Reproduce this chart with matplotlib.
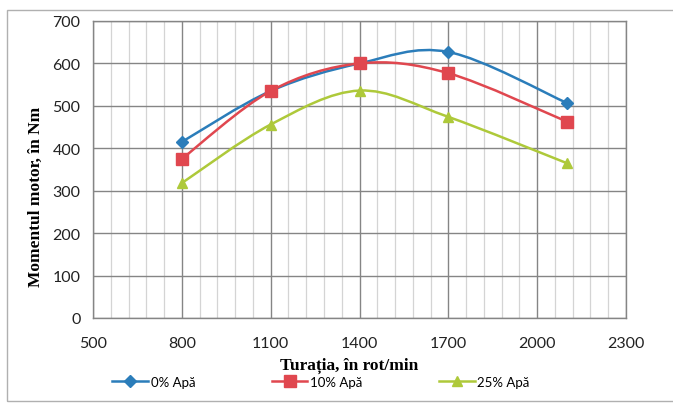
import numpy as np
import matplotlib
matplotlib.use("Agg")
import matplotlib.pyplot as plt
from matplotlib.path import Path
from matplotlib.patches import PathPatch, Rectangle
from matplotlib.lines import Line2D
from matplotlib.ticker import FixedLocator

rpm = [800, 1100, 1400, 1700, 2100]
apa0 = [415, 535, 600, 627, 507]
apa10 = [375, 535, 600, 577, 463]
apa25 = [318, 456, 536, 474, 365]
series_labels = ["0% Apă", "10% Apă", "25% Apă"]
xticks = [500, 800, 1100, 1400, 1700, 2000, 2300]
yticks = [0, 100, 200, 300, 400, 500, 600, 700]

colors = ["#2B7DBA", "#E0474F", "#AEC93A"]
markers = ["D", "s", "^"]
msizes = [6, 8, 7]

fig = plt.figure(figsize=(6.73, 4.06), dpi=100)
ax = fig.add_axes([93/673, 1-319/406, (626-93)/673, (319-22)/406])

def smooth_path(xs, ys):
    pts = np.column_stack([xs, ys]).astype(float)
    n = len(pts)
    verts = [pts[0]]
    codes = [Path.MOVETO]
    for i in range(n-1):
        p0 = pts[i-1] if i > 0 else pts[i]
        p1 = pts[i]
        p2 = pts[i+1]
        p3 = pts[i+2] if i+2 < n else pts[i+1]
        c1 = p1 + (p2 - p0)/6
        c2 = p2 - (p3 - p1)/6
        verts += [c1, c2, p2]
        codes += [Path.CURVE4]*3
    return Path(verts, codes)

handles = []
for ys, c, m, ms, lab in zip([apa0, apa10, apa25], colors, markers, msizes, series_labels):
    patch = PathPatch(smooth_path(rpm, ys), facecolor="none", edgecolor=c, lw=1.8, zorder=3)
    ax.add_patch(patch)
    ax.plot(rpm, ys, linestyle="none", marker=m, color=c, markersize=ms, zorder=4)
    handles.append(Line2D([], [], color=c, lw=1.8, marker=m, markersize=ms))

ax.set_xlim(500, 2300)
ax.set_ylim(0, 700)
ax.xaxis.set_major_locator(FixedLocator(xticks))
ax.yaxis.set_major_locator(FixedLocator(yticks))
ax.xaxis.set_minor_locator(FixedLocator(list(range(500, 2301, 60))))
ax.grid(True, which="major", color="#858585", lw=1.0)
ax.grid(True, which="minor", axis="x", color="#d4d4d4", lw=0.9)
ax.set_axisbelow(True)
ax.tick_params(which="both", length=0, labelsize=11.5, colors="#222222")
ax.tick_params(axis="x", pad=13)
ax.tick_params(axis="y", pad=9)
for lbl in ax.get_xticklabels() + ax.get_yticklabels():
    lbl.set_fontfamily("Lato")
for s in ax.spines.values():
    s.set_color("#858585")
    s.set_linewidth(1.0)

ax.set_xlabel("Turația, în rot/min", fontfamily="Liberation Serif", fontweight="bold",
              fontsize=12.5)
ax.set_ylabel("Momentul motor, în Nm", fontfamily="Liberation Serif", fontweight="bold",
              fontsize=12.5)
ax.xaxis.set_label_coords((349-93)/533, (319-366)/297)
ax.yaxis.set_label_coords((36-93)/533, (319-197)/297)
ax.xaxis.label.set_va("center")
ax.yaxis.label.set_va("center")

fig.legend(handles, series_labels, loc="center", bbox_to_anchor=(321/673, 1-383/406),
           ncol=3, frameon=False, prop={"family": "Lato", "size": 9.5},
           columnspacing=5.8, handlelength=2.7, handletextpad=0.2)

fig.add_artist(Rectangle((7/673, 1-402/406), 1.0, (402-11)/406, transform=fig.transFigure,
                         facecolor="none", edgecolor="#b0b0b0", lw=1.0))

fig.savefig("out.png", dpi=100)
